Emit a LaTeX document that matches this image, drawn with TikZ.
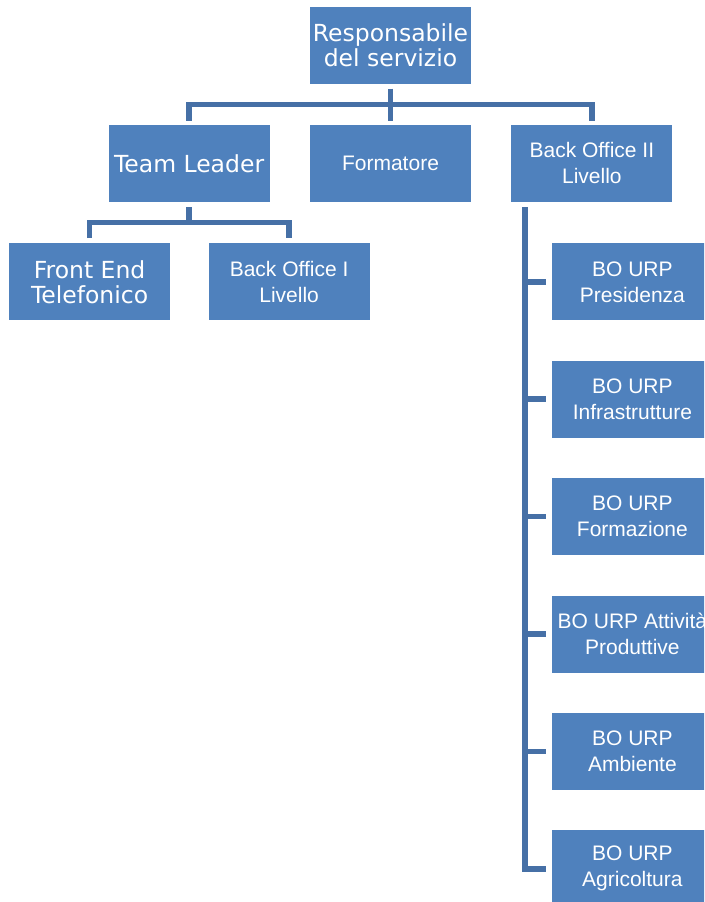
\documentclass[tikz,border=0pt]{standalone}
\usepackage{fontspec}
\setmainfont{Liberation Sans}
\newfontfamily\widefont{DejaVu Sans}
\usetikzlibrary{positioning}
\definecolor{boxblue}{RGB}{79,129,189}
\definecolor{lineblue}{RGB}{70,112,166}

\begin{document}
\begin{tikzpicture}[x=1pt, y=-1pt, node distance=41pt and 40pt,
	box/.style={rectangle, fill=boxblue, text=white, minimum width=161pt, minimum height=77pt, inner sep=0pt, align=center, font=\fontsize{21}{26}\selectfont},
	bigbox/.style={box, font=\widefont\fontsize{23.5}{25}\selectfont},
	link/.style={draw=lineblue, line width=5.5pt}]

		\clip (0,0) rectangle (704,902);
		\useasboundingbox (0,0) rectangle (704,902);

		\node[bigbox] (resp) at (390.5,45) {Responsabile\\del servizio};
		\node[box] (form) [below=41pt of resp] {Formatore};
		\node[bigbox] (tl) [left=40pt of form] {Team Leader};
		\node[box] (bo2) [right=40pt of form] {Back Office II\\Livello};

		\node[bigbox] (fe) [below=41pt of tl, xshift=-99.5pt] {Front End\\Telefonico};
		\node[box] (bo1) [below=41pt of tl, xshift=100pt] {Back Office I\\Livello};

		\node[box] (p1) [below=41pt of bo2, xshift=40.5pt] {BO URP\\Presidenza};
		\node[box] (p2) [below=40pt of p1] {BO URP\\Infrastrutture};
		\node[box] (p3) [below=40pt of p2] {BO URP\\Formazione};
		\node[box] (p4) [below=40pt of p3] {BO URP Attività\\Produttive};
		\node[box] (p5) [below=40pt of p4] {BO URP\\Ambiente};
		\node[box] (p6) [below=40pt of p5] {BO URP\\Agricoltura};

		% top level
		\draw[link, shorten <=5pt, shorten >=4pt] (resp.south) -- (form.north);
		\draw[link, shorten <=4pt, shorten >=4pt] (tl.north) -- ++(0,-20) -| (bo2.north);

		% team leader
		\draw[link, shorten <=5pt] (tl.south) -- ++(0,20.5);
		\draw[link, shorten <=5pt, shorten >=5pt] (fe.north) -- ++(0,-20.5) -| (bo1.north);

		% back office II
		\coordinate (trunk) at ([xshift=14pt]bo2.south west);
		\draw[link, shorten <=5pt, shorten >=6pt] (trunk) |- (p6.west);
		\foreach \n in {p1,p2,p3,p4,p5}
			\draw[link, shorten <=6pt] (\n.west) -- (\n.west -| trunk);

		\end{tikzpicture}
\end{document}
